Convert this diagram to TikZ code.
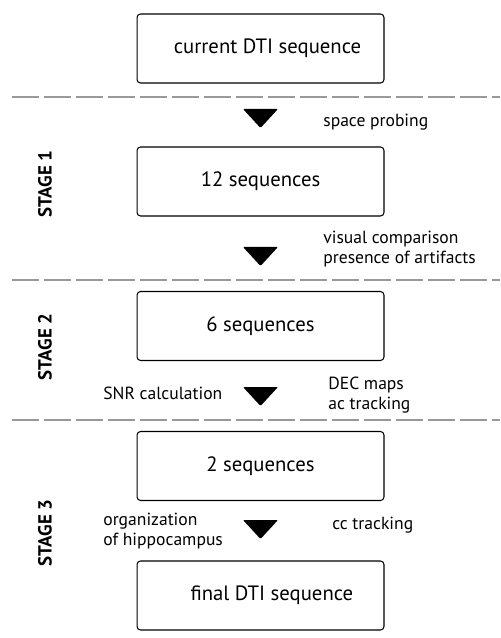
\documentclass[tikz,border=0pt]{standalone}
\usepackage{fontspec}
\setmainfont{PT Sans}
\usepackage{tikz}
\usetikzlibrary{positioning}

\begin{document}
\begin{tikzpicture}[x=0.02cm, y=-0.02cm,
    seqbox/.style={draw, rounded corners=2pt, line width=0.6pt, minimum width=4.94cm, minimum height=1.38cm, font=\fontsize{11.8}{13}\selectfont},
    note/.style={anchor=west, align=left, inner sep=0pt, font=\fontsize{10}{11.4}\selectfont},
    stagelabel/.style={rotate=90, font=\bfseries\fontsize{10.8}{12}\selectfont},
    sepline/.style={draw=gray!80, line width=0.6pt, dash pattern=on 0.54cm off 0.1cm}]
    \useasboundingbox (0,0) rectangle (500,638);

    % Separators
    \foreach \y in {97, 280, 420} {
        \draw[sepline] (12,\y) -- (500,\y);
    }

    % Boxes
    \node[seqbox] (cur) at (260.5,48.5) {\hspace{8pt}current DTI sequence};
    \node[seqbox] (s12) at (260.5,181.5) {12 sequences\hspace{6pt}};
    \node[seqbox] (s6) at (260.5,326) {6 sequences\hspace{3pt}};
    \node[seqbox] (s2) at (260.5,466) {2 sequences};
    \node[seqbox] (fin) at (260.5,595.5) {\hspace{13pt}final DTI sequence};

    % Arrowheads
    \foreach \y in {109, 247, 387, 520} {
        \fill[rounded corners=0.6pt] (243,\y) -- (278,\y) -- (260.5,\y+19) -- cycle;
    }

    % Notes
    \node[note] (probe) at (323,122) {space probing};
    \node[note] (visual) at (323,249) {visual comparison\\presence of artifacts};
    \node[note] (snr) at (103,393) {SNR calculation};
    \node[note] (dec) at (328,395) {DEC maps\\ac tracking};
    \node[note] (hippo) at (103,531) {organization\\of hippocampus};
    \node[note] (cc) at (332,525) {cc tracking};

    % Stages
    \node[stagelabel] (st1) at (45,184) {STAGE 1};
    \node[stagelabel] (st2) at (45,347) {STAGE 2};
    \node[stagelabel] (st3) at (45,533) {STAGE 3};
\end{tikzpicture}
\end{document}
